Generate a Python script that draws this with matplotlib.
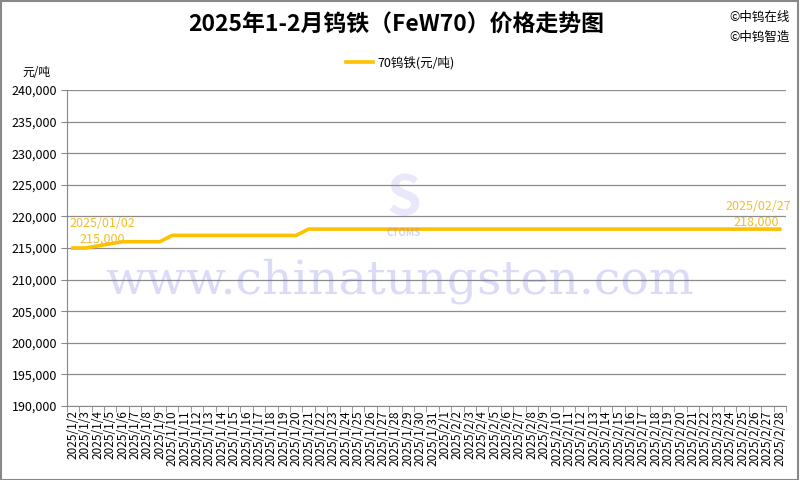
import numpy as np
import matplotlib
matplotlib.use("Agg")
import matplotlib.pyplot as plt
from matplotlib.patches import Rectangle

plt.rcParams['font.family'] = ['Noto Sans CJK SC', 'DejaVu Sans']

# dates on the category axis (every day)
jan = ["2025/1/%d" % d for d in range(2, 32)]
feb = ["2025/2/%d" % d for d in range(1, 29)]
dates = jan + feb

# price, None = no quote (weekend)
prices_jan = [215000, 215000, None, None, 216000, 216000, 216000, 216000, 217000,
              None, None, 217000, 217000, 217000, 217000, 217000, None, None,
              217000, 218000, 218000, 218000, 218000, None, None, 218000, 218000,
              218000, 218000, 218000]
prices_feb = [None, None, 218000, 218000, 218000, 218000, 218000, None, None,
              218000, 218000, 218000, 218000, 218000, None, None, 218000, 218000,
              218000, 218000, 218000, None, None, 218000, 218000, 218000, 218000,
              218000]
prices = prices_jan + prices_feb

yticks = list(range(190000, 240001, 5000))

gold = '#FFC000'
txtgold = '#F2BE2A'

fig = plt.figure(figsize=(8, 4.8), dpi=100)
ax = fig.add_axes([0.0834, 0.154, 0.8991, 0.6585])

xs = [i for i, p in enumerate(prices) if p is not None]
ys = [p for p in prices if p is not None]
ax.plot(xs, ys, color=gold, lw=2.6, label='70钨铁(元/吨)', zorder=3)

ax.set_xlim(-0.5, len(dates) - 0.5)
ax.set_ylim(yticks[0], yticks[-1])
ax.set_yticks(yticks)
ax.set_yticklabels(["{:,}".format(v) for v in yticks], fontsize=9)
ax.set_xticks(np.arange(len(dates)))
ax.set_xticklabels(dates, rotation=90, fontsize=8.5)
ax.set_xticks(np.arange(len(dates) + 1) - 0.5, minor=True)
ax.tick_params(axis='x', which='major', length=0, pad=3)
ax.tick_params(axis='x', which='minor', length=4, color='#888888')
ax.tick_params(axis='y', length=4, color='#888888', pad=3)
ax.grid(axis='y', color='#8c8c8c', lw=0.9)
ax.set_axisbelow(True)
for s in ['top', 'right']:
    ax.spines[s].set_visible(False)
for s in ['left', 'bottom']:
    ax.spines[s].set_color('#888888')

# annotations for first / last points
ax.text(-0.25, 218950, "2025/01/02", color=txtgold, fontsize=9, ha='left', va='center')
ax.text(0.55, 216400, "215,000", color=txtgold, fontsize=9, ha='left', va='center')
ax.text(len(dates) - 0.1, 221500, "2025/02/27", color=txtgold, fontsize=9, ha='right', va='center')
ax.text(len(dates) - 1.05, 219050, "218,000", color=txtgold, fontsize=9, ha='right', va='center')

# watermark
fig.text(0.5, 0.415, "www.chinatungsten.com", fontsize=34, family='DejaVu Serif',
         color='#7070e0', alpha=0.25, ha='center', va='center')
fig.text(0.505, 0.515, "CTOMS", fontsize=7, color='#7f7fe0', alpha=0.35,
         ha='center', va='center', fontweight='bold')
fig.text(0.505, 0.585, "S", fontsize=40, color='#8f8fe8', alpha=0.2,
         ha='center', va='center', fontstyle='italic', fontweight='bold')

fig.text(0.495, 0.948, "2025年1-2月钨铁（FeW70）价格走势图", fontsize=16.5,
         fontweight='bold', ha='center', va='center')
fig.text(0.912, 0.963, "©中钨在线", fontsize=9, ha='left', va='center')
fig.text(0.912, 0.922, "©中钨智造", fontsize=9, ha='left', va='center')
fig.text(0.028, 0.848, "元/吨", fontsize=8.5, ha='left', va='center')

fig.legend(loc='center', bbox_to_anchor=(0.5, 0.87), frameon=False, fontsize=9,
           handlelength=2.2, handletextpad=0.3)

fig.patches.append(Rectangle((0.001, 0.001), 0.997, 0.997, transform=fig.transFigure,
                             fill=False, edgecolor='#888888', lw=1.5))

fig.savefig("out.png", dpi=100)
